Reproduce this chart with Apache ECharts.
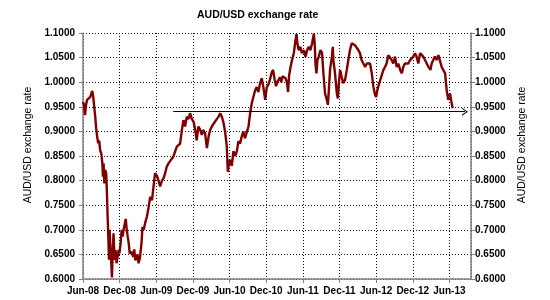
<!DOCTYPE html>
<html><head><meta charset="utf-8">
<script src="https://cdn.jsdelivr.net/npm/echarts@6/dist/echarts.min.js"></script>
<style>html,body{margin:0;padding:0;background:#fff}#c{width:550px;height:300px}</style>
</head><body><div id="c"></div>
<script>
const titleText = 'AUD/USD exchange rate';
const axisName = 'AUD/USD exchange rate';
const dates = [
'2008-06-01','2008-06-06','2008-06-11','2008-06-16','2008-06-21','2008-06-29','2008-07-07','2008-07-12','2008-07-17','2008-07-22','2008-07-27',
'2008-08-01','2008-08-06','2008-08-11','2008-08-16','2008-08-21','2008-08-26','2008-09-01','2008-09-06','2008-09-09','2008-09-12','2008-09-16',
'2008-09-20','2008-09-25','2008-09-28','2008-10-02','2008-10-05','2008-10-09','2008-10-12','2008-10-15','2008-10-19','2008-10-24','2008-10-27',
'2008-11-01','2008-11-06','2008-11-11','2008-11-16','2008-11-21','2008-11-26','2008-11-30','2008-12-06','2008-12-11','2008-12-16','2008-12-21',
'2009-01-01','2009-01-06','2009-01-11','2009-01-16','2009-01-21','2009-02-01','2009-02-07','2009-02-12','2009-02-17','2009-02-22','2009-02-27',
'2009-03-04','2009-03-11','2009-03-19','2009-03-24','2009-03-30','2009-04-07','2009-04-15','2009-04-23','2009-05-01','2009-05-10','2009-05-18',
'2009-05-26','2009-06-04','2009-06-12','2009-06-20','2009-06-29','2009-07-07','2009-07-15','2009-07-23','2009-08-01','2009-08-10','2009-08-18',
'2009-08-26','2009-09-04','2009-09-12','2009-09-20','2009-09-28','2009-10-07','2009-10-15','2009-10-23','2009-11-01','2009-11-09','2009-11-17',
'2009-11-26','2009-12-04','2009-12-12','2009-12-20','2009-12-29',
'2010-01-07','2010-01-15','2010-01-23','2010-02-01','2010-02-09','2010-02-17','2010-02-24','2010-03-04','2010-03-12','2010-03-20','2010-03-29',
'2010-04-07','2010-04-15','2010-04-23','2010-05-01','2010-05-09','2010-05-18','2010-05-23','2010-05-29','2010-06-04','2010-06-12','2010-06-20',
'2010-06-29','2010-07-07','2010-07-15','2010-07-23','2010-08-01','2010-08-09','2010-08-17','2010-08-26','2010-09-04','2010-09-12','2010-09-20',
'2010-09-28','2010-10-07','2010-10-15','2010-10-23','2010-11-01','2010-11-09','2010-11-17','2010-11-26','2010-12-04','2010-12-12','2010-12-20','2010-12-29',
'2011-01-05','2011-01-13','2011-01-20','2011-01-26','2011-02-03','2011-02-08','2011-02-14','2011-02-20','2011-02-26','2011-03-06','2011-03-13',
'2011-03-19','2011-03-24','2011-03-31','2011-04-08','2011-04-17','2011-04-25','2011-04-30','2011-05-04','2011-05-11','2011-05-19','2011-05-27',
'2011-06-06','2011-06-14','2011-06-22','2011-06-30','2011-07-08','2011-07-17','2011-07-26','2011-07-31','2011-08-03','2011-08-08','2011-08-13',
'2011-08-20','2011-08-28','2011-09-05','2011-09-12','2011-09-20','2011-09-29','2011-10-04','2011-10-09','2011-10-15','2011-10-24','2011-10-29',
'2011-11-01','2011-11-09','2011-11-18','2011-11-23','2011-11-28','2011-12-04','2011-12-12','2011-12-20','2011-12-29',
'2012-01-07','2012-01-15','2012-01-23','2012-02-01','2012-02-09','2012-02-17','2012-02-26','2012-03-04','2012-03-12','2012-03-20','2012-03-29',
'2012-04-07','2012-04-15','2012-04-23','2012-05-01','2012-05-10','2012-05-18','2012-05-26','2012-06-01','2012-06-07','2012-06-14','2012-06-21',
'2012-06-29','2012-07-07','2012-07-15','2012-07-23','2012-08-01','2012-08-09','2012-08-18','2012-08-26','2012-09-04','2012-09-12','2012-09-20',
'2012-09-29','2012-10-07','2012-10-15','2012-10-23','2012-11-01','2012-11-09','2012-11-18','2012-11-26','2012-12-04','2012-12-12','2012-12-20','2012-12-29',
'2013-01-07','2013-01-15','2013-01-23','2013-02-01','2013-02-09','2013-02-17','2013-02-26','2013-03-04','2013-03-12','2013-03-20','2013-03-29',
'2013-04-07','2013-04-15','2013-04-23','2013-05-01','2013-05-10','2013-05-18','2013-05-26','2013-06-04','2013-06-12','2013-06-17'
];
const rates = [
0.960,0.954,0.933,0.954,0.964,0.960,0.970,0.977,0.982,0.970,0.950,
0.930,0.906,0.889,0.876,0.882,0.862,0.855,0.835,0.808,0.835,0.794,
0.822,0.815,0.781,0.727,0.693,0.639,0.700,0.673,0.645,0.603,0.645,
0.693,0.639,0.659,0.632,0.645,0.659,0.652,0.673,0.700,0.686,0.700,
0.722,0.700,0.686,0.673,0.652,0.655,0.645,0.660,0.638,0.637,0.650,
0.632,0.643,0.673,0.706,0.700,0.715,0.727,0.745,0.767,0.760,0.788,
0.815,0.810,0.800,0.788,0.800,0.805,0.815,0.828,0.835,0.840,0.838,
0.849,0.860,0.869,0.870,0.875,0.903,0.923,0.910,0.930,0.925,0.937,
0.925,0.920,0.905,0.882,0.910,
0.903,0.893,0.903,0.895,0.866,0.890,0.903,0.910,0.915,0.918,0.925,
0.930,0.937,0.930,0.918,0.900,0.869,0.818,0.835,0.842,0.830,0.860,
0.850,0.860,0.880,0.875,0.890,0.900,0.886,0.885,0.910,0.937,0.957,
0.970,0.984,0.990,0.980,0.998,1.008,0.990,0.964,0.990,0.995,1.005,1.020,
1.025,1.005,0.992,1.000,1.004,1.010,1.000,1.012,1.013,1.008,1.000,
0.980,1.013,1.030,1.045,1.060,1.086,1.098,1.079,1.065,1.072,1.059,
1.065,1.052,1.065,1.072,1.065,1.079,1.099,1.072,1.038,1.018,1.045,
1.052,1.065,1.060,1.018,0.977,0.964,0.954,0.984,1.025,1.050,1.072,
1.045,1.018,0.977,0.967,0.998,1.025,1.011,0.998,1.004,
1.025,1.045,1.065,1.079,1.082,1.075,1.072,1.065,1.059,1.045,1.038,
1.031,1.038,1.041,1.038,1.018,0.991,0.975,0.970,0.984,0.995,1.004,
1.015,1.025,1.031,1.038,1.055,1.052,1.045,1.038,1.052,1.031,1.038,
1.025,1.018,1.031,1.038,1.041,1.038,1.045,1.045,1.052,1.059,1.052,1.038,
1.059,1.060,1.052,1.045,1.038,1.031,1.025,1.038,1.045,1.052,1.045,
1.055,1.052,1.031,1.035,1.018,0.984,0.964,0.977,0.957,0.947
];
const axisStart = '2008-06-01';
const axisEnd = '2013-09-17';
const xTickMonths = 6;
const yMin = 0.6, yMax = 1.1, yStep = 0.05;
const arrowLevel = 0.94;
const arrowFrom = '2009-08-25';
const arrowTo = '2013-08-18';
const monthNames = ['Jan','Feb','Mar','Apr','May','Jun','Jul','Aug','Sep','Oct','Nov','Dec'];

function monthOffset(s) {
  const p = s.split('-').map(Number);
  const dim = new Date(p[0], p[1], 0).getDate();
  return (p[0] - 2008) * 12 + (p[1] - 6) + (p[2] - 1) / dim;
}
function monthLabel(v) {
  if (Math.abs(v / xTickMonths - Math.round(v / xTickMonths)) > 1e-6) return '';
  const idx = 5 + Math.round(v);
  const y = 2008 + Math.floor(idx / 12);
  return monthNames[idx % 12] + '-' + String(y).slice(2);
}
const seriesData = dates.map((d, i) => [monthOffset(d), rates[i]]);

const font = 'Liberation Sans, Arial, sans-serif';
const gridLine = { show: true, lineStyle: { color: '#111', width: 1, type: [1, 2] } };
const yAxisBase = {
  type: 'value', min: yMin, max: yMax, interval: yStep,
  name: axisName, nameLocation: 'middle', nameRotate: 90,
  nameTextStyle: { fontFamily: font, fontSize: 10.5, color: '#000', padding: [0, 0, 0, 22] },
  axisLine: { show: true, lineStyle: { color: '#808080', width: 1.5 } },
  axisTick: { show: true, inside: false, length: 4, lineStyle: { color: '#808080' } },
  axisLabel: { fontFamily: font, fontSize: 10, fontWeight: 'bold', color: '#000',
    formatter: v => v.toFixed(4) }
};
const chart = echarts.init(document.getElementById('c'), null, { renderer: 'canvas' });
chart.setOption({
  animation: false,
  backgroundColor: '#fff',
  title: { text: titleText, left: 192, top: 5,
    textStyle: { fontFamily: font, fontSize: 10.5, fontWeight: 'bold', color: '#000' } },
  grid: { left: 83, right: 79, top: 33, bottom: 21, containLabel: false },
  xAxis: {
    type: 'value', min: 0, max: monthOffset(axisEnd), interval: xTickMonths,
    axisLine: { show: true, onZero: false, lineStyle: { color: '#808080', width: 1.5 } },
    axisTick: { show: true, length: 4, lineStyle: { color: '#808080' } },
    axisLabel: { fontFamily: font, fontSize: 10, fontWeight: 'bold', color: '#000', margin: 7,
      showMaxLabel: false, formatter: monthLabel },
    splitLine: gridLine
  },
  yAxis: [
    Object.assign({}, yAxisBase, { position: 'left', nameGap: 46,
      axisLabel: Object.assign({}, yAxisBase.axisLabel, { margin: 8 }),
      splitLine: gridLine }),
    Object.assign({}, yAxisBase, { position: 'right', nameGap: 43,
      axisLabel: Object.assign({}, yAxisBase.axisLabel, { margin: 4 }),
      splitLine: { show: false } })
  ],
  series: [{
    type: 'line', data: seriesData, showSymbol: false, symbol: 'none',
    lineStyle: { color: '#800000', width: 2.4 },
    markLine: {
      silent: true, animation: false,
      symbol: ['none', 'path://M0,10 L5,0 L10,10 L8.6,10 L5,2.8 L1.4,10 Z'],
      symbolSize: [8, 6],
      label: { show: false },
      lineStyle: { color: '#000', width: 1, type: 'solid' },
      data: [[{ coord: [monthOffset(arrowFrom), arrowLevel] }, { coord: [monthOffset(arrowTo), arrowLevel] }]]
    }
  }]
});
</script></body></html>
